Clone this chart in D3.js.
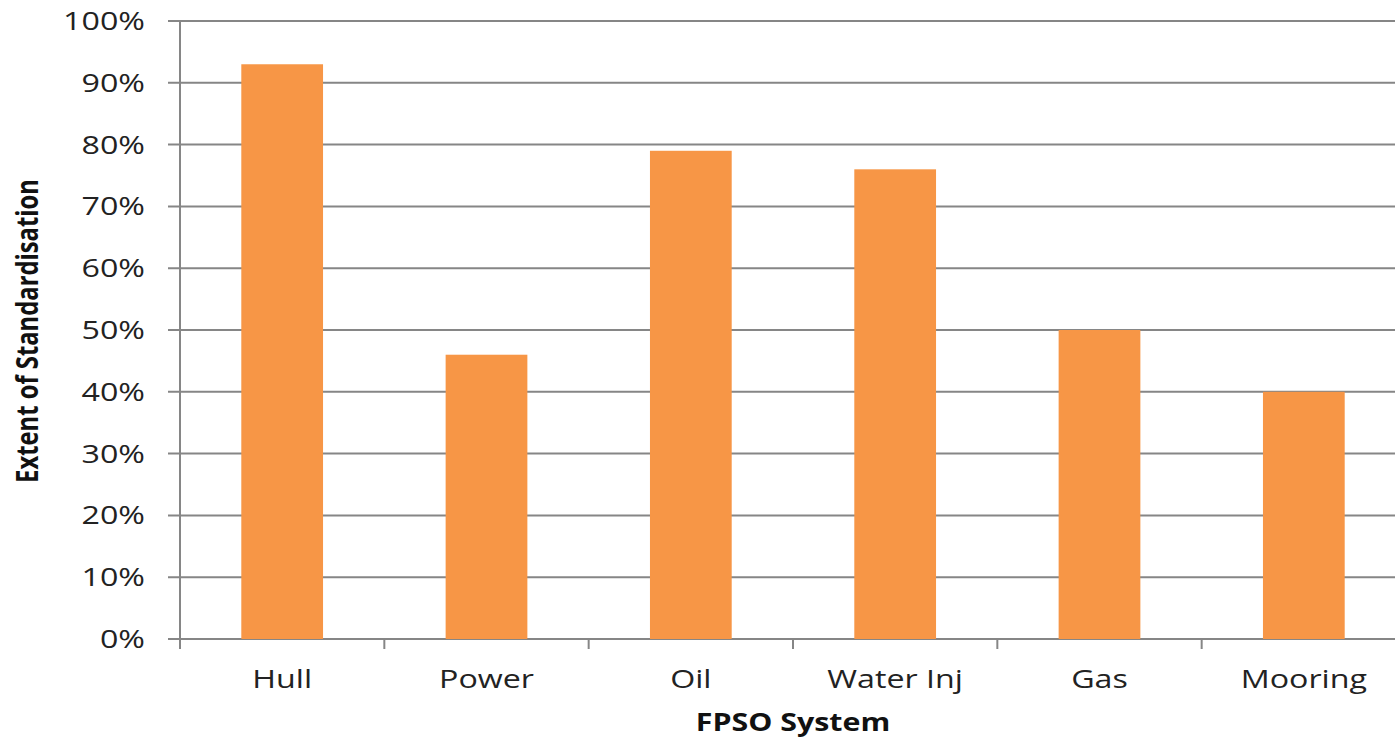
<!DOCTYPE html>
<html><head><meta charset="utf-8">
<script src="https://cdn.jsdelivr.net/npm/d3@7"></script>
<style>body{margin:0;background:#fff;overflow:hidden}</style>
</head><body>
<svg id="c" width="1395" height="739"></svg>
<script>
const categories = ["Hull","Power","Oil","Water Inj","Gas","Mooring"];
const values = [0.93,0.46,0.79,0.76,0.50,0.40];
const yTicks = [0,0.1,0.2,0.3,0.4,0.5,0.6,0.7,0.8,0.9,1.0];
const xTitle = "FPSO System";
const yTitle = "Extent of Standardisation";

(function(){
const svg = d3.select("#c");
const pL = 180, pR = 1406, pT = 21, pB = 639;
const sx = 1.24;
const font = "'Open Sans', sans-serif";
const grid = "#868686";

const x = d3.scaleBand().domain(categories).range([pL, pR]).paddingInner(0.6).paddingOuter(0.3);
const y = d3.scaleLinear().domain([0,1]).range([pB, pT]);

svg.append("g").selectAll("line").data(yTicks).join("line")
  .attr("x1", pL - 12).attr("x2", 1395)
  .attr("y1", d => y(d)).attr("y2", d => y(d))
  .attr("stroke", grid).attr("stroke-width", 2);

svg.append("line").attr("x1", pL).attr("x2", pL).attr("y1", pT).attr("y2", pB + 10)
  .attr("stroke", grid).attr("stroke-width", 2);

const step = x.step();
const bounds = d3.range(categories.length + 1).map(i => pL + i * step);
svg.append("g").selectAll("line").data(bounds).join("line")
  .attr("x1", d => d).attr("x2", d => d).attr("y1", pB).attr("y2", pB + 10)
  .attr("stroke", grid).attr("stroke-width", 2);

svg.append("g").selectAll("rect").data(values).join("rect")
  .attr("x", (d,i) => x(categories[i])).attr("width", x.bandwidth())
  .attr("y", d => y(d)).attr("height", d => y(0) - y(d))
  .attr("fill", "#F79646");

const fmt = d3.format(".0%");
svg.append("g").selectAll("text").data(yTicks).join("text")
  .attr("transform", d => `translate(145,${y(d) + 9}) scale(${sx},1)`)
  .attr("text-anchor", "end").attr("font-family", font).attr("font-size", 26)
  .attr("fill", "#222").text(d => fmt(d));

svg.append("g").selectAll("text").data(categories).join("text")
  .attr("transform", d => `translate(${x(d) + x.bandwidth()/2},688) scale(${sx},1)`)
  .attr("text-anchor", "middle").attr("font-family", font).attr("font-size", 26)
  .attr("fill", "#222").text(d => d);

svg.append("text")
  .attr("transform", `translate(${(pL + pR)/2},731) scale(${sx},1)`)
  .attr("text-anchor", "middle").attr("font-family", font).attr("font-weight", "bold")
  .attr("font-size", 24.5).attr("fill", "#111").text(xTitle);

svg.append("text")
  .attr("transform", `translate(38,331) rotate(-90) scale(1,${sx})`)
  .attr("text-anchor", "middle").attr("font-family", font).attr("font-weight", "bold")
  .attr("font-size", 23.8).attr("fill", "#111").text(yTitle);
})();
</script>
</body></html>
